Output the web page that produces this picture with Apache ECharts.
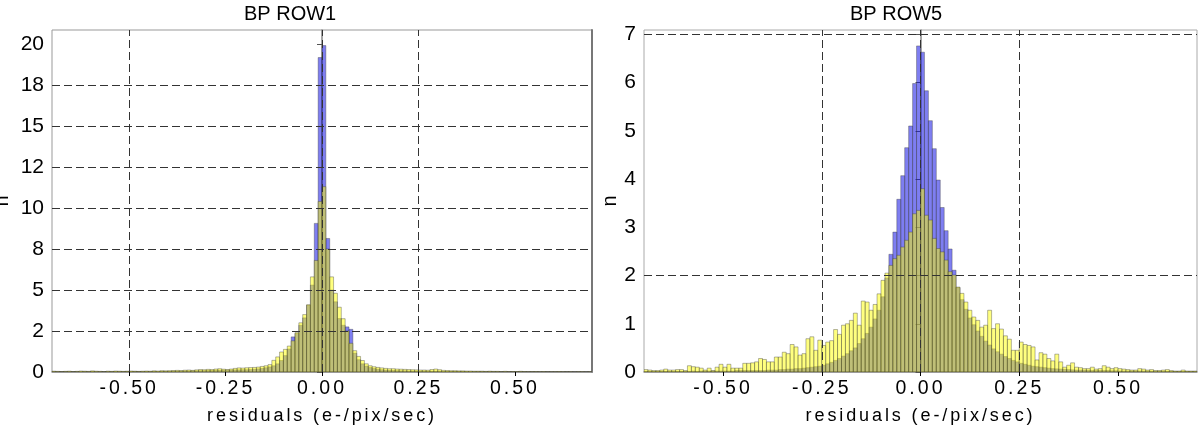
<!DOCTYPE html>
<html><head><meta charset="utf-8">
<script src="https://cdn.jsdelivr.net/npm/echarts@6/dist/echarts.min.js"></script>
<style>html,body{margin:0;padding:0;background:#fff}#c{width:1200px;height:431px}</style>
</head><body><div id="c"></div>
<script>
// ---------- data ----------
const BIN_START = -0.70;
const BIN_WIDTH = 0.01;

const row1Blue = [
0.03,0.02,0.03,0.02,0.02,0.03,0.02,0.02,0.03,0.02,
0.03,0.02,0.02,0.03,0.02,0.02,0.03,0.02,0.02,0.03,
0.02,0.03,0.03,0.02,0.03,0.03,0.04,0.03,0.04,0.04,
0.04,0.05,0.05,0.05,0.06,0.06,0.07,0.07,0.08,0.08,
0.09,0.09,0.10,0.10,0.11,0.12,0.12,0.13,0.13,0.14,
0.14,0.15,0.17,0.19,0.22,0.26,0.31,0.38,0.50,0.70,
1.00,1.40,2.14,2.35,2.85,3.30,4.07,5.30,9.06,19.17,
19.90,8.14,5.00,4.28,3.26,2.85,2.75,2.60,1.15,0.75,
0.50,0.36,0.27,0.21,0.17,0.14,0.12,0.10,0.09,0.08,
0.07,0.07,0.06,0.06,0.05,0.05,0.05,0.04,0.04,0.04,
0.04,0.03,0.03,0.03,0.03,0.03,0.03,0.02,0.02,0.02,
0.02,0.02,0.01,0.02,0.02,0.01,0.02,0.01,0.02,0.01,
0.01,0.02,0.01,0.01,0.02,0.01,0.01,0.01,0.02,0.01,
0.01,0.01,0.01,0.02,0.01,0.01,0.01,0.01,0.01,0.01
];
const row1Yellow = [
0.05,0.04,0.03,0.04,0.05,0.03,0.04,0.06,0.05,0.04,
0.07,0.05,0.04,0.03,0.05,0.04,0.06,0.05,0.04,0.05,
0.06,0.05,0.04,0.05,0.06,0.05,0.07,0.06,0.08,0.07,
0.08,0.09,0.10,0.09,0.11,0.12,0.10,0.13,0.15,0.14,
0.16,0.15,0.18,0.20,0.17,0.15,0.18,0.22,0.25,0.24,
0.26,0.27,0.28,0.30,0.34,0.38,0.45,0.71,0.92,1.22,
1.38,1.58,1.90,2.40,3.00,3.50,4.10,5.80,6.80,10.40,
11.30,7.50,5.80,4.80,3.95,3.25,2.50,1.75,1.30,0.95,
0.70,0.50,0.38,0.32,0.28,0.25,0.22,0.20,0.20,0.18,
0.17,0.16,0.15,0.14,0.13,0.12,0.12,0.11,0.15,0.18,
0.14,0.10,0.09,0.08,0.08,0.07,0.07,0.06,0.06,0.05,
0.05,0.05,0.04,0.05,0.04,0.04,0.03,0.04,0.03,0.03,
0.03,0.04,0.03,0.02,0.03,0.03,0.02,0.03,0.02,0.02,
0.02,0.03,0.02,0.02,0.02,0.01,0.02,0.02,0.01,0.02
];
const row5Blue = [
0.01,0.01,0.01,0.01,0.01,0.01,0.01,0.01,0.01,0.01,
0.01,0.01,0.02,0.01,0.02,0.02,0.02,0.02,0.02,0.02,
0.02,0.02,0.02,0.03,0.03,0.03,0.03,0.03,0.03,0.03,
0.03,0.04,0.04,0.04,0.05,0.05,0.06,0.06,0.07,0.07,
0.08,0.09,0.10,0.11,0.12,0.14,0.17,0.20,0.24,0.28,
0.33,0.38,0.44,0.50,0.59,0.69,0.80,0.93,1.10,1.28,
1.56,1.95,2.44,2.90,3.58,4.07,4.65,5.10,5.98,6.76,
6.63,5.83,5.21,4.63,3.98,3.41,2.93,2.55,2.11,1.75,
1.50,1.30,1.12,0.98,0.85,0.74,0.64,0.56,0.48,0.42,
0.37,0.32,0.28,0.24,0.21,0.18,0.16,0.14,0.12,0.11,
0.10,0.09,0.08,0.07,0.065,0.06,0.055,0.05,0.045,0.04,
0.04,0.04,0.035,0.03,0.03,0.03,0.03,0.03,0.025,0.025,
0.02,0.02,0.02,0.02,0.02,0.02,0.02,0.02,0.015,0.015,
0.015,0.015,0.01,0.01,0.01,0.01,0.01,0.01,0.01,0.01
];
const row5Yellow = [
0.05,0.04,0.03,0.03,0.04,0.06,0.04,0.04,0.05,0.05,
0.03,0.13,0.11,0.10,0.08,0.04,0.08,0.03,0.10,0.16,
0.10,0.16,0.08,0.08,0.08,0.18,0.18,0.19,0.21,0.28,
0.26,0.21,0.21,0.31,0.31,0.41,0.38,0.57,0.52,0.35,
0.38,0.69,0.73,0.45,0.66,0.55,0.62,0.65,0.88,0.78,
0.97,1.00,1.07,1.22,0.97,1.47,1.45,1.28,1.40,1.62,
1.90,2.05,2.21,2.35,2.42,2.59,2.73,2.90,3.28,3.35,
3.80,3.25,3.15,2.77,2.56,2.49,2.32,2.08,2.01,1.76,
1.63,1.45,1.28,1.14,1.07,0.93,0.97,1.28,0.90,1.00,
0.89,0.75,0.68,0.45,0.45,0.62,0.57,0.55,0.52,0.25,
0.40,0.37,0.28,0.23,0.37,0.21,0.10,0.14,0.19,0.10,
0.09,0.07,0.07,0.10,0.06,0.07,0.13,0.10,0.07,0.09,
0.07,0.06,0.05,0.04,0.04,0.07,0.06,0.04,0.05,0.03,
0.03,0.04,0.05,0.03,0.02,0.02,0.04,0.02,0.02,0.02
];

const titles = ['BP ROW1', 'BP ROW5'];
const xName = 'residuals (e-/pix/sec)';
const yName = 'n';
const xTicks = [-0.5, -0.25, 0, 0.25, 0.5];
const row1YTicks = [0, 2.5, 5, 7.5, 10, 12.5, 15, 17.5, 20];
const row1YLabels = ['0', '2', '5', '8', '10', '12', '15', '18', '20'];
const row5YTicks = [0, 1, 2, 3, 4, 5, 6, 7];
const row5YLabels = ['0', '1', '2', '3', '4', '5', '6', '7'];
const row1HGrid = [2.5, 5, 7.5, 10, 12.5, 15, 17.5];
const row1VGrid = [-0.5, 0, 0.25];
const row5HGrid = [2, 7];
const row5VGrid = [-0.25, 0, 0.25];

// ---------- letter spacing for tracked labels ----------
const SPACING = { '19.5': '3px', '18': '2.9px' };
(function () {
  const proto = CanvasRenderingContext2D.prototype;
  const orig = proto.fillText;
  proto.fillText = function (t, x, y, w) {
    const m = /([\d.]+)px/.exec(this.font);
    if ('letterSpacing' in this) this.letterSpacing = (m && SPACING[m[1]]) || '0px';
    return w === undefined ? orig.call(this, t, x, y) : orig.call(this, t, x, y, w);
  };
})();

// ---------- chart ----------
const FONT = "'Liberation Sans', Arial, sans-serif";
const STROKE = 'rgba(60,60,60,0.55)';

function bars(values) {
  return values.map((v, i) => [BIN_START + i * BIN_WIDTH, BIN_START + (i + 1) * BIN_WIDTH, v]);
}
function renderer(fill) {
  return function (params, api) {
    const p0 = api.coord([api.value(0), api.value(2)]);
    const p1 = api.coord([api.value(1), 0]);
    return {
      type: 'rect',
      shape: { x: p0[0], y: p0[1], width: p1[0] - p0[0], height: p1[1] - p0[1] },
      style: { fill: fill, stroke: STROKE, lineWidth: 0.7 }
    };
  };
}
function labelFor(ticks, labels) {
  return function (v) {
    let best = 0;
    for (let i = 0; i < ticks.length; i++) if (Math.abs(ticks[i] - v) < Math.abs(ticks[best] - v)) best = i;
    return labels[best];
  };
}
function xAxisFor(gi) {
  return {
    gridIndex: gi, type: 'value', min: -0.7, max: 0.7,
    name: xName, nameLocation: 'middle', nameGap: 35,
    nameTextStyle: { fontFamily: FONT, fontSize: 18, color: '#000' },
    axisLine: { show: true, onZero: false, lineStyle: { color: '#888', width: 1.5 } },
    axisTick: { show: true, customValues: xTicks, length: 4, lineStyle: { color: '#000', width: 1 } },
    axisLabel: { customValues: xTicks, formatter: v => v.toFixed(2), fontFamily: FONT, fontSize: 19.5, color: '#000', margin: 7 },
    splitLine: { show: false }
  };
}
function yAxisFor(gi, max, ticks, labels, gap) {
  return {
    gridIndex: gi, type: 'value', min: 0, max: max,
    name: yName, nameLocation: 'middle', nameGap: gap,
    nameTextStyle: { fontFamily: FONT, fontSize: 20, color: '#000' },
    axisLine: { show: true, lineStyle: { color: '#888', width: 1.5 } },
    axisTick: { show: true, customValues: ticks, length: 5, lineStyle: { color: '#555', width: 1 } },
    axisLabel: { customValues: ticks, formatter: labelFor(ticks, labels), fontFamily: FONT, fontSize: 21, color: '#000', margin: 8 },
    splitLine: { show: false }
  };
}
function gridLines(h, v) {
  return {
    silent: true, symbol: ['none', 'none'], animation: false,
    label: { show: false },
    lineStyle: { type: [8, 4], color: '#333', width: 1 },
    data: h.map(y => ({ yAxis: y })).concat(v.map(x => ({ xAxis: x })))
  };
}

const chart = echarts.init(document.getElementById('c'), null, { renderer: 'canvas' });
chart.setOption({
  animation: false,
  backgroundColor: '#fff',
  title: [
    { text: titles[0], left: 244, top: 4, padding: 0, textStyle: { fontFamily: FONT, fontSize: 20, fontWeight: 'normal', color: '#000' } },
    { text: titles[1], left: 850, top: 4, padding: 0, textStyle: { fontFamily: FONT, fontSize: 20, fontWeight: 'normal', color: '#000' } }
  ],
  grid: [
    { left: 52, top: 30, width: 540, height: 342, show: true, borderColor: '#999', borderWidth: 1, outerBoundsMode: 'none', containLabel: false },
    { left: 644, top: 30, width: 553, height: 342, show: true, borderColor: '#aaa', borderWidth: 1, outerBoundsMode: 'none', containLabel: false }
  ],
  xAxis: [xAxisFor(0), xAxisFor(1)],
  yAxis: [
    yAxisFor(0, 20.85, row1YTicks, row1YLabels, 40),
    yAxisFor(1, 7.09, row5YTicks, row5YLabels, 23),
    { gridIndex: 0, type: 'value', position: 'right', min: 0, max: 20.85,
      axisLine: { show: true, lineStyle: { color: '#777', width: 2 } },
      axisTick: { show: false }, axisLabel: { show: false }, splitLine: { show: false } }
  ],
  series: [
    { type: 'custom', name: 'ROW1 blue', xAxisIndex: 0, yAxisIndex: 0, z: 2, clip: true,
      renderItem: renderer('rgba(20,20,230,0.55)'), encode: { x: [0, 1], y: 2 }, data: bars(row1Blue) },
    { type: 'custom', name: 'ROW1 yellow', xAxisIndex: 0, yAxisIndex: 0, z: 3, clip: true,
      renderItem: renderer('rgba(255,255,0,0.5)'), encode: { x: [0, 1], y: 2 }, data: bars(row1Yellow),
      markLine: gridLines(row1HGrid, row1VGrid) },
    { type: 'custom', name: 'ROW5 blue', xAxisIndex: 1, yAxisIndex: 1, z: 2, clip: true,
      renderItem: renderer('rgba(20,20,230,0.55)'), encode: { x: [0, 1], y: 2 }, data: bars(row5Blue) },
    { type: 'custom', name: 'ROW5 yellow', xAxisIndex: 1, yAxisIndex: 1, z: 3, clip: true,
      renderItem: renderer('rgba(255,255,0,0.5)'), encode: { x: [0, 1], y: 2 }, data: bars(row5Yellow),
      markLine: gridLines(row5HGrid, row5VGrid) }
  ]
});
</script>
</body></html>
